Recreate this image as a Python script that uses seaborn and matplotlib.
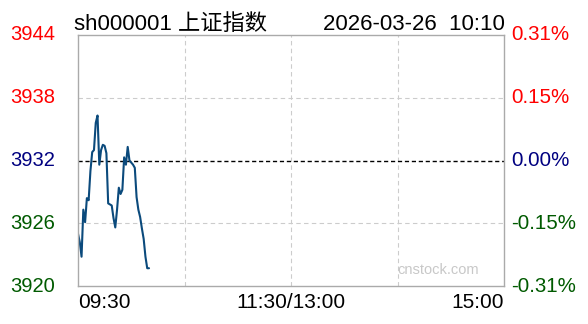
import matplotlib
matplotlib.use("Agg")
import matplotlib.pyplot as plt
import seaborn as sns
import pandas as pd
import numpy as np

# ---- data ----
minutes = list(range(41))  # minutes since 09:30
prices = [3925.0, 3924.2, 3922.8, 3927.3, 3926.1, 3928.4, 3928.2, 3931.0, 3932.8, 3933.0,
          3935.6, 3936.3, 3931.6, 3933.0, 3933.5, 3933.4, 3932.7, 3927.9, 3927.8, 3927.7,
          3926.5, 3925.6, 3927.3, 3929.4, 3928.8, 3929.2, 3932.3, 3931.6, 3933.3, 3932.0,
          3931.8, 3931.6, 3931.3, 3928.5, 3927.3, 3926.6, 3925.5, 3924.5, 3922.8, 3921.7,
          3921.7]
price_ticks = [3944, 3938, 3932, 3926, 3920]
pct_labels = ["0.31%", "0.15%", "0.00%", "-0.15%", "-0.31%"]
tick_colors = ["#ff0000", "#ff0000", "#000080", "#005a00", "#005a00"]
time_labels = ["09:30", "11:30/13:00", "15:00"]
title_left = "sh000001 上证指数"
title_right = "2026-03-26  10:10"
pre_close = 3932

sns.set_theme(style="white")
plt.rcParams['font.family'] = ['Liberation Sans', 'Noto Sans CJK SC', 'DejaVu Sans']

W, H = 588, 324
fig = plt.figure(figsize=(W / 100, H / 100), dpi=100)
L, R, T, B = 78, 504, 35, 286
ax = fig.add_axes([L / W, 1 - B / H, (R - L) / W, (B - T) / H])

df = pd.DataFrame({"minute": minutes, "price": prices})
sns.lineplot(data=df, x="minute", y="price", ax=ax, color="#0b4a7c", linewidth=1.5)

ax.set_xlim(0, 240)
ax.set_ylim(3920, 3944)
ax.set_xticks([])
ax.set_yticks([])
ax.set_xlabel("")
ax.set_ylabel("")

for s in ax.spines.values():
    s.set_color("#aaaaaa")
    s.set_linewidth(1)

# grid
for v in [3926, 3938]:
    ax.axhline(v, color="#cccccc", linestyle=(0, (4, 3)), linewidth=0.8, zorder=0)
for m in [60, 120, 180]:
    ax.axvline(m, color="#cccccc", linestyle=(0, (4, 3)), linewidth=0.8, zorder=0)
ax.axhline(pre_close, color="black", linestyle=(0, (3, 2)), linewidth=1, zorder=1)

fs_left = 14.5
fs_right = 14.8
fs_x = 15
fs_title = 16

# y labels
for v, p, c in zip(price_ticks, pct_labels, tick_colors):
    y = 1 - (B - (v - 3920) / 24 * (B - T)) / H
    fig.text(55 / W, y, str(v), color=c, fontsize=fs_left, ha="right", va="center")
    fig.text(511 / W, y, p, color=c, fontsize=fs_right, ha="left", va="center")

# x labels
xy = 1 - 303 / H
fig.text(L / W, xy, time_labels[0], color="black", fontsize=fs_x, ha="left", va="center")
fig.text((L + R) / 2 / W, xy, time_labels[1], color="black", fontsize=fs_x, ha="center", va="center")
fig.text(R / W, xy, time_labels[2], color="black", fontsize=fs_x, ha="right", va="center")

# title
ty = 1 - 30 / H
fig.text(74 / W, ty, title_left, color="black", fontsize=fs_title, ha="left", va="baseline")
fig.text(505 / W, ty, title_right, color="black", fontsize=fs_title, ha="right", va="baseline")

# watermark
fig.text(438 / W, 1 - 270 / H, "cnstock.com", color="#c8c8c8", fontsize=10.5, ha="center", va="center")

fig.savefig("out.png", dpi=100, facecolor="white")
